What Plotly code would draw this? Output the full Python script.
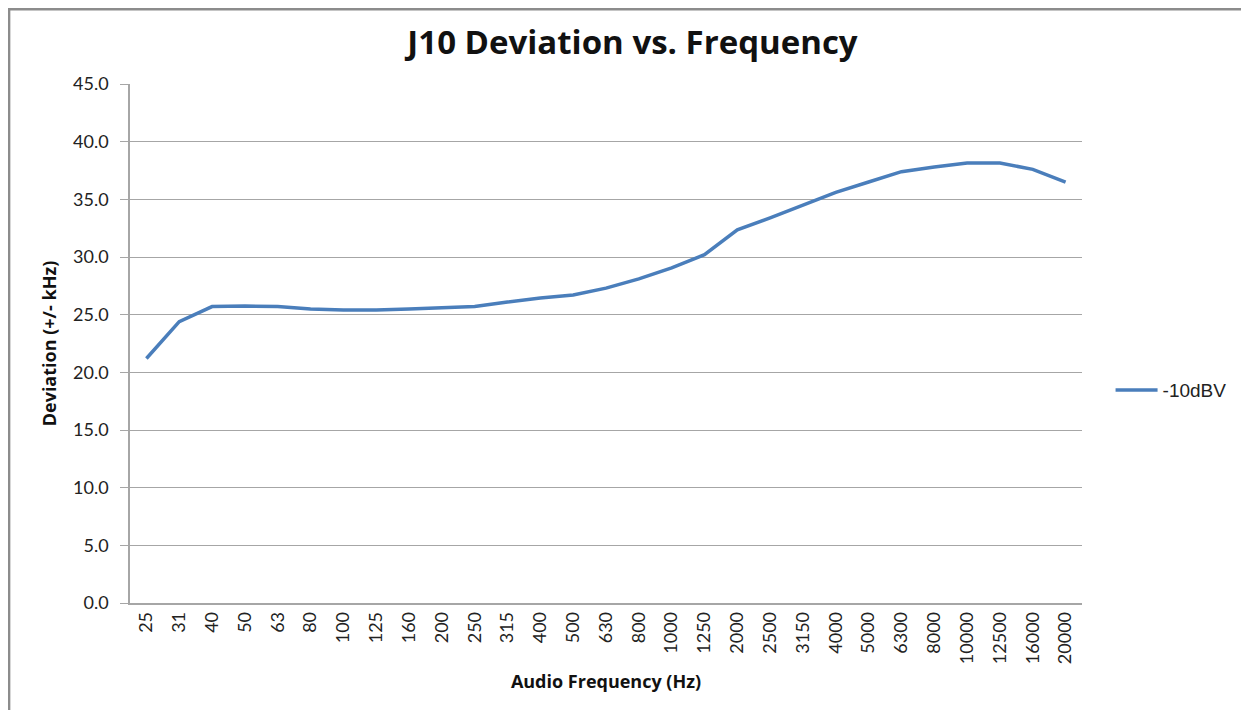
import plotly.graph_objects as go

# audio frequency categories (Hz) and measured deviation (+/- kHz)
freqs = ["25", "31", "40", "50", "63", "80", "100", "125", "160", "200", "250", "315", "400", "500",
         "630", "800", "1000", "1250", "2000", "2500", "3150", "4000", "5000", "6300", "8000",
         "10000", "12500", "16000", "20000"]
dev_m10dbv = [21.2, 24.4, 25.7, 25.75, 25.7, 25.5, 25.4, 25.4, 25.5, 25.6, 25.7, 26.1, 26.45, 26.7,
              27.3, 28.1, 29.05, 30.2, 32.35, 33.4, 34.5, 35.6, 36.5, 37.4, 37.8,
              38.15, 38.15, 37.6, 36.5]
y_ticks = [0, 5, 10, 15, 20, 25, 30, 35, 40, 45]

blue = '#4A7EBB'
grid = '#A6A6A6'

fig = go.Figure()
fig.add_trace(go.Scatter(x=freqs, y=dev_m10dbv, mode='lines', name='-10dBV',
                         line={'color': blue, 'width': 3.5}, hovertemplate='%{y:.1f}<br>%{x} Hz'))

fig.update_xaxes(type='category', tickangle=-90, showgrid=False, showline=True, linecolor=grid,
                 linewidth=1.5, ticks='', range=[-0.5, len(freqs) - 0.5],
                 tickfont={'family': 'Lato', 'size': 18, 'color': '#222'},
                 title={'text': '<b>Audio Frequency (Hz)</b>', 'font': {'family': 'Open Sans', 'size': 18,
                        'color': '#111'}, 'standoff': 12})
fig.update_yaxes(range=[0, 45], tickvals=y_ticks, tickformat='.1f', showgrid=True, gridcolor=grid,
                 gridwidth=1.2, showline=True, linecolor=grid, linewidth=1.5, ticks='outside',
                 ticklen=8, tickcolor=grid, zeroline=False, ticklabelstandoff=8,
                 tickfont={'family': 'Lato', 'size': 18, 'color': '#222'},
                 title={'text': '<b>Deviation (+/- kHz)</b>', 'font': {'family': 'Open Sans', 'size': 18,
                        'color': '#111'}, 'standoff': 12})

# gray frame around the chart area, as in the spreadsheet export
fig.add_shape(type='rect', xref='paper', yref='paper', x0=-0.127, x1=1.3, y0=-0.4, y1=1.144,
              line={'color': '#8C8C8C', 'width': 2.5}, fillcolor='rgba(0,0,0,0)', opacity=1,
              layer='below')

fig.update_layout(width=1249, height=710, template='simple_white', plot_bgcolor='white',
                  paper_bgcolor='white', margin={'l': 122, 'r': 175, 't': 76, 'b': 115},
                  title={'text': '<b>J10 Deviation vs. Frequency</b>', 'x': 0.5, 'xanchor': 'center',
                         'y': 0.951, 'yanchor': 'middle',
                         'font': {'family': 'Open Sans', 'size': 33, 'color': '#111'}},
                  showlegend=True,
                  legend={'x': 1.03, 'y': 0.41, 'xanchor': 'left', 'yanchor': 'middle',
                          'font': {'family': 'Liberation Sans', 'size': 19, 'color': '#222'},
                          'itemwidth': 42, 'bgcolor': 'rgba(0,0,0,0)'})

fig.write_html("out.html")
